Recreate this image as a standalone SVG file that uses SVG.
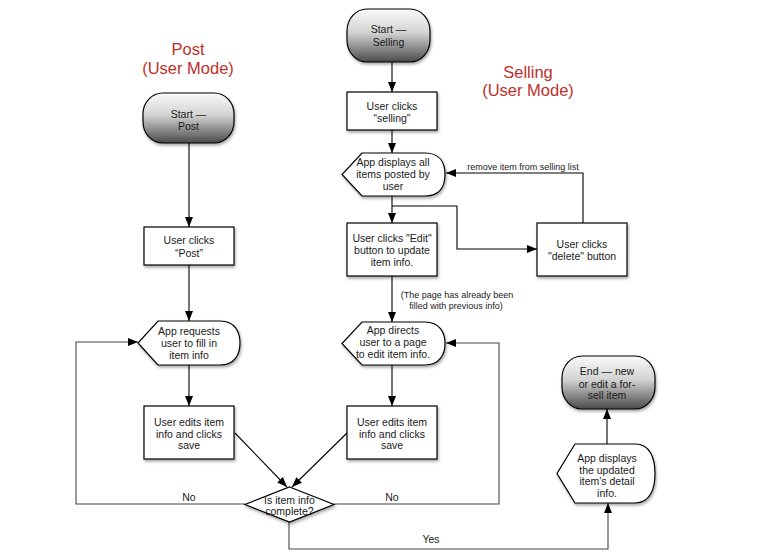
<svg xmlns="http://www.w3.org/2000/svg" width="783" height="559" viewBox="0 0 783 559">
<style>
text{font-family:"Liberation Sans",Arial,sans-serif;font-size:10.5px;fill:#1a1a1a;text-anchor:middle}
.title{font-size:16.5px;fill:#c0302c}
.lbl{font-size:9px}
.box{fill:#fff;stroke:#000;stroke-width:1.2;filter:url(#sh)}
.term{fill:url(#g);stroke:#000;stroke-width:1.2;filter:url(#sh)}
.c{fill:none;stroke:#000;stroke-width:1.1;marker-end:url(#ah)}
.cg{fill:none;stroke:#444;stroke-width:1.1}
</style>
<defs>
<linearGradient id="g" x1="0" y1="0" x2="0" y2="1">
<stop offset="0" stop-color="#fbfbfb"/>
<stop offset="0.45" stop-color="#d2d2d2"/>
<stop offset="1" stop-color="#4a4a4a"/>
</linearGradient>
<filter id="sh" x="-20%" y="-20%" width="140%" height="150%">
<feDropShadow dx="1" dy="2" stdDeviation="1.5" flood-color="#000" flood-opacity="0.35"/>
</filter>
<marker id="ah" markerUnits="userSpaceOnUse" markerWidth="10" markerHeight="10" viewBox="0 0 10 10" refX="10" refY="5" orient="auto">
<path d="M0,1 L10,5 L0,9 Z" fill="#000"/>
</marker>
</defs>
<rect width="783" height="559" fill="#fff"/>

<text class="title" x="188" y="55">Post</text>
<text class="title" x="188" y="74">(User Mode)</text>
<text class="title" x="528" y="78">Selling</text>
<text class="title" x="528" y="96">(User Mode)</text>

<g id="connectors">
<path class="c" d="M392,62 V92"/>
<path class="c" d="M392,130 V153"/>
<path class="c" d="M392,196 V223"/>
<path class="c" d="M392,206 H457 V249 H537"/>
<path class="c" d="M583,223 V173 H446"/>
<path class="c" d="M392,276 V322"/>
<path class="c" d="M392,365 V406"/>
<path class="c" d="M189,143 V227"/>
<path class="c" d="M189,265 V321"/>
<path class="c" d="M189,365 V406"/>
<path class="c" d="M235,433 L287,487"/>
<path class="c" d="M347,433 L292,487"/>
<path class="c" style="stroke:#444" d="M245,504 H76 V342 H138"/>
<path class="c" style="stroke:#444" d="M334,504 H499 V343 H446"/>
<path class="c" style="stroke:#444" d="M289,522 V549 H608 V503"/>
<path class="c" d="M607,444 V409"/>
<text class="lbl" x="523" y="170">remove item from selling list</text>
<text class="lbl" x="457" y="297.5">(The page has already been</text>
<text class="lbl" x="456" y="308.5">filled with previous info)</text>
<text x="189" y="501">No</text>
<text x="392" y="501">No</text>
<text x="431" y="542.5">Yes</text>
</g>

<g id="start-selling">
<rect class="term" x="347" y="9" width="83" height="53" rx="20" ry="22"/>
<text x="388.5" y="33">Start —</text>
<text x="388.5" y="45.5">Selling</text>
</g>

<g id="start-post">
<rect class="term" x="143" y="93" width="91" height="50" rx="20" ry="21"/>
<text x="188.5" y="118">Start —</text>
<text x="188.5" y="130">Post</text>
</g>

<g id="clicks-selling">
<rect class="box" x="347" y="92" width="90" height="38"/>
<text x="392" y="110">User clicks</text>
<text x="392" y="122">“selling”</text>
</g>

<g id="displays-all">
<path class="box" d="M362,153 H425 C440,153 445,163 445,174.5 C445,186 440,196 425,196 H362 L342,174.5 Z"/>
<text x="393" y="166">App displays all</text>
<text x="393" y="178">items posted by</text>
<text x="393" y="190">user</text>
</g>

<g id="clicks-edit">
<rect class="box" x="347" y="223" width="90" height="53"/>
<text x="392" y="241.5">User clicks "Edit"</text>
<text x="392" y="253.5">button to update</text>
<text x="392" y="265.5">item info.</text>
</g>

<g id="clicks-delete">
<rect class="box" x="537" y="223" width="90" height="53"/>
<text x="582" y="248">User clicks</text>
<text x="582" y="260">"delete"  button</text>
</g>

<g id="clicks-post">
<rect class="box" x="144" y="227" width="90" height="38"/>
<text x="189" y="244">User clicks</text>
<text x="189" y="256.5">“Post”</text>
</g>

<g id="requests">
<path class="box" d="M158,321 H220 C235,321 240,332 240,343 C240,354 235,365 220,365 H158 L138,343 Z"/>
<text x="189" y="334.5">App requests</text>
<text x="189" y="347">user to fill in</text>
<text x="189" y="359">item info</text>
</g>

<g id="directs">
<path class="box" d="M362,322 H425 C440,322 445,333 445,343.5 C445,354 440,365 425,365 H362 L342,343.5 Z"/>
<text x="393" y="334">App directs</text>
<text x="393" y="346">user to a page</text>
<text x="393" y="358">to edit item info.</text>
</g>

<g id="edits-left">
<rect class="box" x="144" y="406" width="90" height="53"/>
<text x="189" y="425.5">User edits item</text>
<text x="189" y="437.5">info and clicks</text>
<text x="189" y="449">save</text>
</g>

<g id="edits-right">
<rect class="box" x="347" y="406" width="90" height="53"/>
<text x="392" y="425.5">User edits item</text>
<text x="392" y="437.5">info and clicks</text>
<text x="392" y="449">save</text>
</g>

<g id="complete">
<path class="box" d="M289.5,487 L334,504.5 L289.5,522 L245,504.5 Z"/>
<text x="289.5" y="504">Is item info</text>
<text x="289.5" y="515">complete?</text>
</g>

<g id="end">
<rect class="term" x="562" y="356" width="93" height="53" rx="20" ry="22"/>
<text x="607" y="375">End — new</text>
<text x="607" y="387.5">or edit a for-</text>
<text x="607" y="399">sell item</text>
</g>

<g id="displays-updated">
<path class="box" d="M575,444 H635 C650,444 655,458 655,473.5 C655,489 650,503 635,503 H575 L557,473.5 Z"/>
<text x="607" y="462">App displays</text>
<text x="607" y="473.5">the updated</text>
<text x="607" y="485">item’s detail</text>
<text x="607" y="496.5">info.</text>
</g>
</svg>
